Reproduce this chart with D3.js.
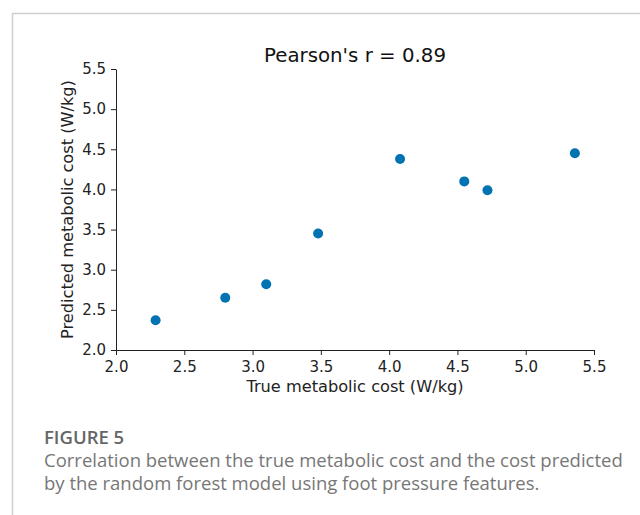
<!DOCTYPE html>
<html>
<head>
<meta charset="utf-8">
<script src="https://cdn.jsdelivr.net/npm/d3@7"></script>
<style>
  body { margin: 0; background: #fff; }
  svg { display: block; }
  .plot text { font-family: 'DejaVu Sans'; }
  .caption text { font-family: 'Open Sans'; }
</style>
</head>
<body>
<div id="chart"></div>
<script>
const width = 640;
const height = 515;
const margin = {top: 69, right: 46, bottom: 165, left: 116};

// true vs predicted metabolic cost (W/kg)
const trueCost = [2.29, 2.80, 3.10, 3.48, 4.08, 4.55, 4.72, 5.36];
const predCost = [2.37, 2.65, 2.82, 3.45, 4.38, 4.10, 3.99, 4.45];
const xTicks = [2.0, 2.5, 3.0, 3.5, 4.0, 4.5, 5.0, 5.5];
const yTicks = [2.0, 2.5, 3.0, 3.5, 4.0, 4.5, 5.0, 5.5];

const data = trueCost.map((d, i) => ({x: d, y: predCost[i]}));

const x = d3.scaleLinear()
  .domain([2.0, 5.5])
  .range([margin.left, width - margin.right]);

const y = d3.scaleLinear()
  .domain([2.0, 5.5])
  .range([height - margin.bottom, margin.top]);

const svg = d3.select('#chart').append('svg')
  .attr('width', width)
  .attr('height', height);

// page frame
svg.append('path')
  .attr('d', `M12.5,${height} V13.5 H${width}`)
  .attr('fill', 'none')
  .attr('stroke', '#cfcfcf')
  .attr('stroke-width', 1.5);

const plot = svg.append('g').attr('class', 'plot');

const xAxis = g => g
  .attr('transform', `translate(0,${height - margin.bottom})`)
  .call(d3.axisBottom(x).tickValues(xTicks).tickFormat(d3.format('.1f')).tickSize(5).tickPadding(6).tickSizeOuter(0))
  .attr('font-family', null)
  .call(g => g.selectAll('text').attr('font-size', 15).attr('fill', '#222'))
  .call(g => g.selectAll('line, .domain').attr('stroke', '#222'));

const yAxis = g => g
  .attr('transform', `translate(${margin.left},0)`)
  .call(d3.axisLeft(y).tickValues(yTicks).tickFormat(d3.format('.1f')).tickSize(5).tickPadding(5).tickSizeOuter(0))
  .attr('font-family', null)
  .call(g => g.selectAll('text').attr('font-size', 15).attr('fill', '#222'))
  .call(g => g.selectAll('line, .domain').attr('stroke', '#222'));

plot.append('g').call(xAxis);
plot.append('g').call(yAxis);

plot.append('g')
  .selectAll('circle')
  .data(data)
  .join('circle')
  .attr('cx', d => x(d.x))
  .attr('cy', d => y(d.y))
  .attr('r', 5)
  .attr('fill', '#0173b2');

plot.append('text')
  .attr('x', (x(2.0) + x(5.5)) / 2)
  .attr('y', 61.5)
  .attr('text-anchor', 'middle')
  .attr('font-size', 19.8)
  .attr('fill', '#111')
  .text("Pearson's r = 0.89");

plot.append('text')
  .attr('x', (x(2.0) + x(5.5)) / 2)
  .attr('y', 392)
  .attr('text-anchor', 'middle')
  .attr('font-size', 16.2)
  .attr('fill', '#222')
  .text('True metabolic cost (W/kg)');

plot.append('text')
  .attr('transform', `translate(73,${(y(2.0) + y(5.5)) / 2}) rotate(-90)`)
  .attr('text-anchor', 'middle')
  .attr('font-size', 16.2)
  .attr('fill', '#222')
  .text('Predicted metabolic cost (W/kg)');

// caption
const cap = svg.append('g').attr('class', 'caption');

cap.append('text')
  .attr('x', 44)
  .attr('y', 443.5)
  .attr('font-size', 18.5)
  .attr('font-weight', 600)
  .attr('fill', '#666')
  .text('FIGURE 5');

const caption = [
  'Correlation between the true metabolic cost and the cost predicted',
  'by the random forest model using foot pressure features.'
];

cap.append('g')
  .selectAll('text')
  .data(caption)
  .join('text')
  .attr('x', 44)
  .attr('y', (d, i) => 466.5 + i * 23.5)
  .attr('font-size', 18.5)
  .attr('fill', '#777')
  .text(d => d);
</script>
</body>
</html>
